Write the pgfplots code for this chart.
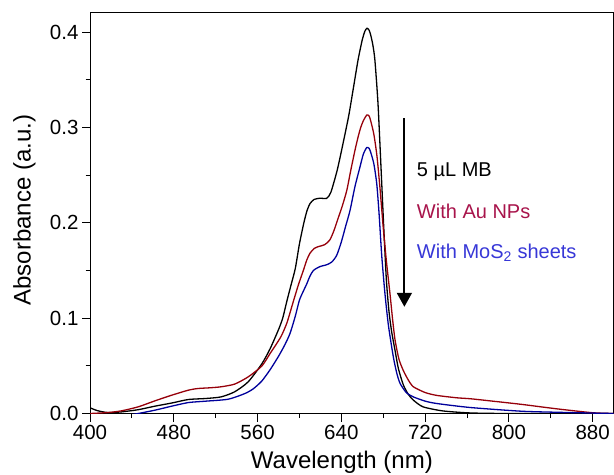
\documentclass[border=0pt]{standalone}
\usepackage{fontspec}
\setmainfont{Liberation Sans}
\usepackage{pgfplots}
\pgfplotsset{compat=1.18}
\usetikzlibrary{arrows.meta}
\definecolor{cred}{RGB}{150,0,10}
\definecolor{cblue}{RGB}{0,0,155}
\definecolor{tred}{RGB}{168,20,75}
\definecolor{tblue}{RGB}{55,55,215}

\begin{document}
\begin{tikzpicture}
\begin{axis}[
  name=ax, at={(0,0)}, anchor=south west,
  scale only axis, width=523.3pt, height=400.6pt,
  xmin=400, xmax=900, ymin=0, ymax=0.4203,
  xtick={400,480,560,640,720,800,880}, ytick={0,0.1,0.2,0.3,0.4},
  minor x tick num=1, minor y tick num=1,
  tick align=outside, tick pos=left,
  major tick length=8pt, minor tick length=4.5pt,
  every tick/.style={black, line width=1pt},
  axis line style={line width=1pt},
  /pgf/number format/assume math mode=true,
  yticklabel style={/pgf/number format/.cd, fixed, fixed zerofill, precision=1},
  xticklabel style={/pgf/number format/.cd, set thousands separator={}},
  tick label style={font=\fontsize{20.5}{24}\selectfont},
  label style={font=\fontsize{24}{28}\selectfont},
  xlabel={Wavelength (nm)}, ylabel={Absorbance (a.u.)},
  xlabel style={at={(axis description cs:0.481,-0.1365)}, anchor=base},
  ylabel style={at={(axis description cs:-0.1137,0.5075)}, anchor=base},
  every axis plot/.append style={smooth, tension=0.4, line width=1.3pt},
]
% 5 uL MB
\addplot[black] coordinates {
(400,0.006) (407,0.003) (417,0.001) (430,0.0017) (446,0.004) (462,0.0077)
(478,0.011) (494,0.0147) (510,0.0157) (525,0.0174) (538,0.0227) (551,0.0332)
(564,0.052) (572,0.068) (580,0.088) (584,0.100) (588,0.118) (592,0.135) (596,0.152)
(600,0.178) (604,0.199) (607,0.212) (610,0.220) (614,0.2245) (620,0.2258) (626,0.2256)
(630,0.232) (636,0.255) (641,0.280) (647,0.312) (651,0.338) (656,0.371)
(660,0.392) (662.5,0.401) (664.5,0.404) (666.5,0.402) (668,0.397) (670,0.387) (672,0.371)
(675,0.325) (678,0.255) (680.5,0.195) (683,0.140) (685.5,0.107) (688,0.086)
(691.3,0.066) (694.5,0.047) (699.2,0.030) (704,0.020) (708.8,0.014) (718,0.007)
(737,0.0027) (763,0.0006) (800,0.0) (900,0.0)
};
% With Au NPs
\addplot[cred] coordinates {
(400,0.0) (417,0.001) (430,0.0028) (446,0.007) (462,0.0133) (478,0.0192)
(494,0.0245) (503,0.0262) (515,0.027) (525,0.028) (538,0.0308) (551,0.0384)
(564,0.0497) (572,0.063) (582,0.080) (588,0.095) (594,0.117) (599,0.135) (603.7,0.150)
(607,0.161) (610,0.168) (614,0.173) (618,0.175) (624,0.177) (629,0.182)
(633,0.192) (637,0.205) (641,0.218) (645.2,0.234) (649,0.255) (653,0.276)
(656,0.290) (658.5,0.300) (661,0.307) (664.3,0.313) (666.5,0.312) (668,0.307)
(671,0.293) (674,0.270) (677,0.235) (680,0.195) (683,0.160) (686.5,0.125)
(689,0.098) (691.3,0.077) (695,0.057) (699.2,0.045) (704,0.035) (708.8,0.028)
(720,0.022) (731,0.019) (750,0.0165) (763,0.0155) (780,0.0135) (812,0.0096)
(845,0.005) (880,0.0008) (900,0.0)
};
% With MoS2 sheets
\addplot[cblue] coordinates {
(400,-0.008) (420,-0.005) (435,-0.002) (446,0.0) (462,0.0035) (478,0.0077)
(494,0.0115) (510,0.0129) (532,0.015) (548,0.021) (556,0.026) (564,0.034)
(572,0.046) (580,0.060) (586,0.072) (591,0.084) (596,0.102) (600,0.119)
(604,0.129) (607,0.136) (610,0.144) (613.3,0.150) (619.4,0.154) (626,0.156)
(631,0.159) (635.6,0.166) (640,0.180) (644,0.196) (648.3,0.213) (653,0.238)
(657.9,0.259) (661,0.272) (664.3,0.279) (666.5,0.278) (668,0.274) (671,0.262)
(673.8,0.241) (676,0.210) (678.6,0.165) (681.7,0.125) (685,0.092) (689.7,0.059)
(693,0.042) (696.1,0.0315) (702,0.022) (708.8,0.0174) (720,0.013) (731,0.0105)
(763,0.0063) (812,0.0024) (850,0.0012) (878,0.0005) (900,0.0)
};
\draw[line width=1.8pt, -{Triangle[length=14pt,width=15pt]}] (axis cs:700.2,0.3095) -- (axis cs:700.2,0.1119);
\node[anchor=base west, inner sep=0pt, font=\fontsize{20}{24}\selectfont] at (axis cs:712,0.249) {5 µL MB};
\node[anchor=base west, inner sep=0pt, text=tred, font=\fontsize{20}{24}\selectfont] at (axis cs:712,0.2046) {With Au NPs};
\node[anchor=base west, inner sep=0pt, text=tblue, font=\fontsize{20}{24}\selectfont] at (axis cs:712,0.1626) {With MoS\textsubscript{2} sheets};
\end{axis}
\pgfresetboundingbox
\path[use as bounding box] ([xshift=-90pt,yshift=-60.7pt]ax.south west) rectangle ([xshift=0.4pt,yshift=12.7pt]ax.north east);
\end{tikzpicture}
\end{document}
